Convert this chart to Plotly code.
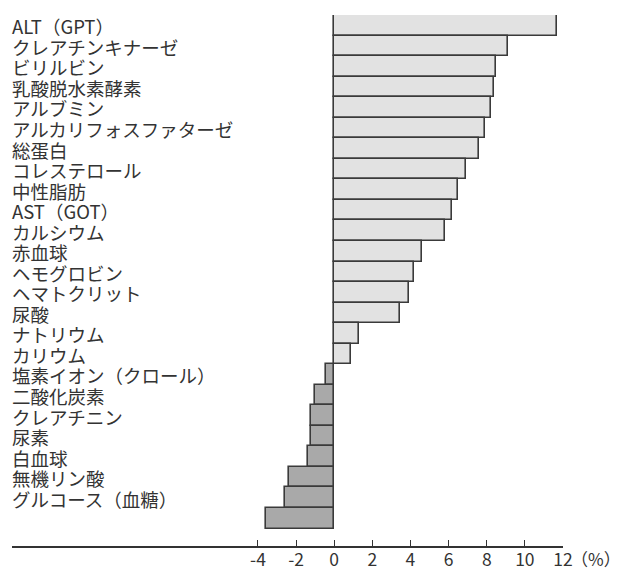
import plotly.graph_objects as go

labels = [
    "ALT（GPT）", "クレアチンキナーゼ", "ビリルビン", "乳酸脱水素酵素", "アルブミン",
    "アルカリフォスファターゼ", "総蛋白", "コレステロール", "中性脂肪", "AST（GOT）",
    "カルシウム", "赤血球", "ヘモグロビン", "ヘマトクリット", "尿酸",
    "ナトリウム", "カリウム", "塩素イオン（クロール）", "二酸化炭素", "クレアチニン",
    "尿素", "白血球", "無機リン酸", "グルコース（血糖）", "",
]
values = [
    11.7, 9.1, 8.5, 8.4, 8.2,
    7.9, 7.6, 6.9, 6.5, 6.2,
    5.8, 4.6, 4.2, 3.9, 3.45,
    1.3, 0.9, -0.45, -1.0, -1.2,
    -1.2, -1.4, -2.35, -2.6, -3.6,
]
tick_vals = [-4, -2, 0, 2, 4, 6, 8, 10, 12]
tick_text = ["-4", "-2", "0", "2", "4", "6", "8", "10", "12"]

positions = list(range(len(values)))
colors = ["#e2e2e2" if v >= 0 else "#a9a9a9" for v in values]

fig = go.Figure()
fig.add_trace(go.Bar(
    x=values, y=positions, orientation="h",
    marker=dict(color=colors, line=dict(color="#3a3a3a", width=1.6)),
    width=1.0, hoverinfo="skip",
))

font_jp = "Noto Sans CJK JP"
for p, lab in zip(positions, labels):
    if lab:
        fig.add_annotation(
            x=0, xref="paper", xanchor="left", xshift=-2,
            y=p, yref="y", yanchor="middle", yshift=-1,
            text=lab, showarrow=False,
            font=dict(family=font_jp, size=18.5, color="#333333"),
        )

fig.add_annotation(
    x=1, xref="paper", xanchor="left", xshift=6,
    y=0, yref="paper", yanchor="top", yshift=2,
    text="（%）", showarrow=False,
    font=dict(family=font_jp, size=17, color="#333333"),
)

fig.update_layout(
    width=622, height=572,
    margin=dict(l=12, r=59, t=15, b=26, autoexpand=False),
    paper_bgcolor="white", plot_bgcolor="white",
    showlegend=False, bargap=0,
    font=dict(family=font_jp, color="#333333"),
)
fig.update_xaxes(
    range=[-16.9, 12], tickvals=tick_vals, ticktext=tick_text,
    ticks="inside", ticklen=6, tickcolor="#333333", tickwidth=1.3,
    showline=True, linecolor="#333333", linewidth=1.5,
    showgrid=False, zeroline=False, automargin=False,
    ticklabelstandoff=-3,
    tickfont=dict(family=font_jp, size=17.5, color="#333333"),
)
fig.update_yaxes(
    range=[25.35, -0.5], showticklabels=False, showgrid=False,
    zeroline=False, showline=False, ticks="", automargin=False,
)

fig.write_html(
    "out.html",
    config={"displayModeBar": False},
    post_script="document.body.style.margin='0';document.body.style.padding='0';",
)
